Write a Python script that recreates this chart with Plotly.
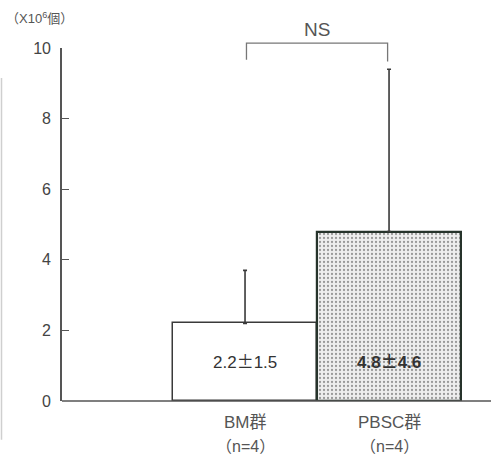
import plotly.graph_objects as go

categories = ["BM群", "PBSC群"]
n_labels = ["（n=4）", "（n=4）"]
means = [2.2, 4.8]
sds = [1.5, 4.6]
y_ticks = [0, 2, 4, 6, 8, 10]
sig_label = "NS"
y_unit = "（X10<sup>6</sup>個）"

FONT = "Liberation Sans, Arial, Noto Sans CJK JP, sans-serif"
PM = "<span style='font-family:Noto Sans CJK JP'>±</span>"
xs = [1, 2]
value_labels = [f"{m}{PM}{s}" for m, s in zip(means, sds)]
value_labels[1] = f"<b>{value_labels[1]}</b>"

fig = go.Figure()
fig.add_trace(go.Bar(
    x=xs, y=means, width=1.0,
    marker=dict(
        color=["#ffffff", "#eeeeee"],
        line=dict(color=["#3a3a3a", "#26332b"], width=[1.5, 2.2]),
        pattern=dict(shape=["", "."], fgcolor="#a8a8a8", size=4, solidity=0.25),
    ),
    error_y=dict(type="data", symmetric=False, array=sds, arrayminus=[0, 0],
                 color="#3a3a3a", thickness=1.6, width=2),
    showlegend=False,
))

fig.update_layout(
    width=491, height=463,
    margin=dict(l=62, r=0, t=48, b=62),
    paper_bgcolor="white", plot_bgcolor="white",
    font=dict(family=FONT, color="#444"),
    xaxis=dict(range=[-0.271, 2.708], showgrid=False, zeroline=False,
               showticklabels=False, ticks="", showline=False),
    yaxis=dict(range=[0, 10], tickvals=y_ticks, ticks="inside", ticklen=7,
               tickwidth=1.3, tickcolor="#555", showline=True, linecolor="#555",
               linewidth=1.6, showgrid=False, zeroline=False,
               tickfont=dict(size=16, color="#444"), ticklabelstandoff=6),
    bargap=0,
)

# x baseline
fig.add_shape(type="line", xref="paper", yref="paper", x0=0, x1=1, y0=0, y1=0,
              line=dict(color="#555", width=1.6))
# significance bracket
fig.add_shape(type="path", xref="x", yref="paper",
              path="M 1.01,0.967 L 1.01,1.014 L 1.99,1.014 L 1.99,0.962",
              line=dict(color="#777", width=1.3))
fig.add_annotation(x=1.5, y=1.052, xref="x", yref="paper", text=sig_label,
                   showarrow=False, yanchor="middle",
                   font=dict(size=19, color="#555"))
# left scan edge line
fig.add_shape(type="line", xref="paper", yref="paper", x0=-0.141, x1=-0.141,
              y0=-0.11, y1=0.915, line=dict(color="#cfcfcf", width=1.5))

# unit label
fig.add_annotation(x=-0.135, y=1.085, xref="paper", yref="paper", text=y_unit,
                   showarrow=False, xanchor="left", yanchor="middle",
                   font=dict(size=13, color="#555"))

for xv, c, n, lab in zip(xs, categories, n_labels, value_labels):
    fig.add_annotation(x=xv, y=-0.062, xref="x", yref="paper", text=c,
                       showarrow=False, yanchor="middle",
                       font=dict(size=17, color="#555"))
    fig.add_annotation(x=xv, y=-0.13, xref="x", yref="paper", text=n,
                       showarrow=False, yanchor="middle",
                       font=dict(size=16, color="#555"))
    fig.add_annotation(x=xv, y=1.16, xref="x", yref="y", text=lab,
                       showarrow=False, yanchor="middle",
                       font=dict(size=17, color="#333"))

fig.write_html("out.html", post_script="document.body.style.margin='0';",
               config={"displayModeBar": False})
